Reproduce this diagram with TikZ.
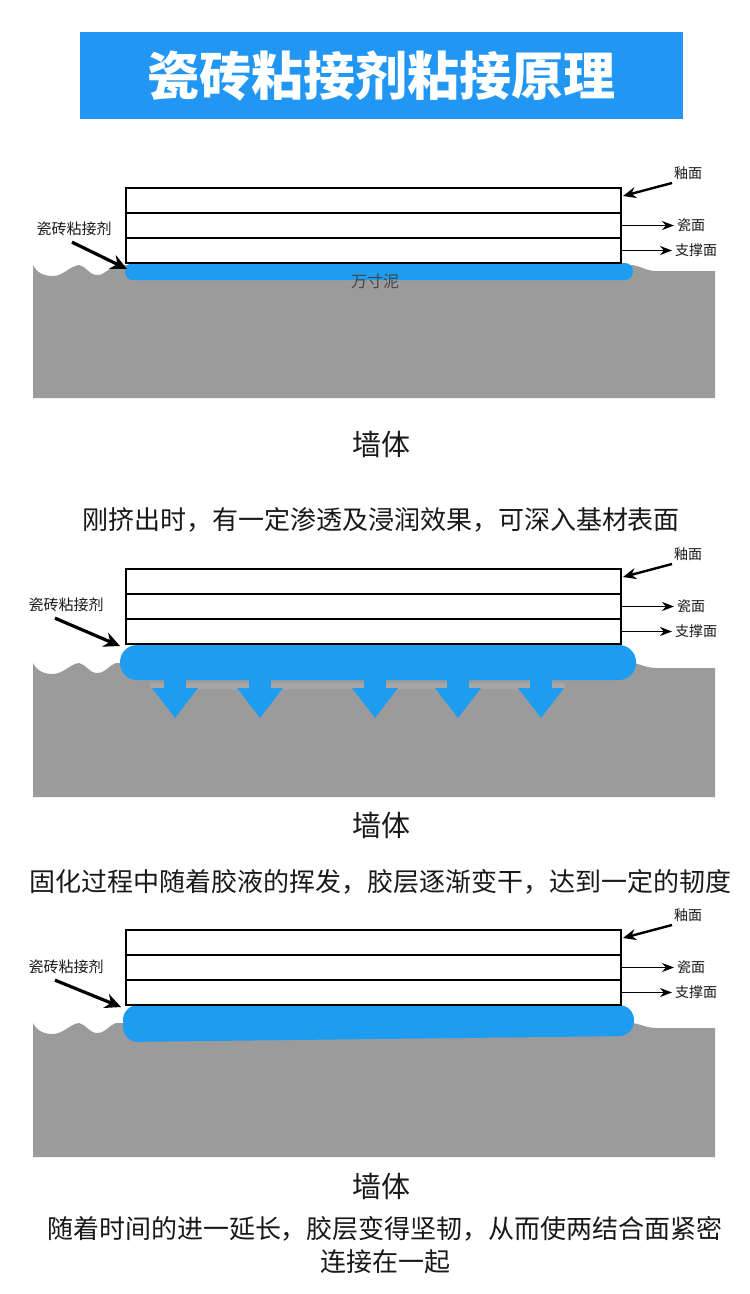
\documentclass[tikz,border=0pt]{standalone}
\usepackage{fontspec}
\newfontfamily\cjk{Noto Sans CJK SC}
\usetikzlibrary{arrows.meta}
\definecolor{titleblue}{RGB}{33,150,243}
\definecolor{glue}{RGB}{30,156,240}
\definecolor{wall}{RGB}{155,155,155}
\definecolor{band}{RGB}{166,166,166}
\definecolor{ink}{RGB}{25,25,25}
\definecolor{mudtext}{RGB}{70,70,70}
\tikzset{
  lbl/.style={font=\cjk\fontsize{14}{14}\selectfont, text=ink, inner sep=0pt, outer sep=0pt},
  gluelbl/.style={font=\cjk\fontsize{15}{15}\selectfont, text=ink, inner sep=0pt},
  big/.style={font=\cjk\fontsize{29}{29}\selectfont, text=ink, inner sep=0pt},
  desc/.style={font=\cjk\fontsize{26}{26}\selectfont, text=ink, inner sep=0pt},
  tile/.style={draw=black, line width=1.6pt, fill=white, inner sep=0pt, outer sep=0pt,
    minimum width=495pt, minimum height=25pt, anchor=north west},
  thinarrow/.style={-{Stealth[length=12pt,width=9pt]}, line width=1.8pt, shorten >=3pt},
  glazearrow/.style={-{Stealth[length=13pt,width=11pt]}, line width=2.4pt},
  gluearrow/.style={-{Stealth[length=16pt,width=15pt]}, line width=3.2pt},
}
% #1 top of wall, #2 right flat level, #3 bottom
\newcommand\wallpath[3]{%
  \fill[wall] (33,#3) -- (33,#1) .. controls (37,#1+8) and (44,#1+11) .. (53,#1+11)
    .. controls (63,#1+11) and (70,#1+1) .. (79,#1)
    .. controls (86,#1+1) and (89,#1+10) .. (97,#1+10)
    .. controls (106,#1+10) and (109,#1+2) .. (116,#1) -- (630,#1)
    .. controls (640,#1) and (645,#2) .. (656,#2) -- (715,#2) -- (715,#3) -- cycle;}
% #1 top of tiles, #2 suffix
\newcommand\tilegroup[2]{%
  \node[tile] (ta#2) at (126,#1) {};
  \node[tile] (tb#2) at (ta#2.south west) {};
  \node[tile] (tc#2) at (tb#2.south west) {};
  \node[lbl] (glz#2) at (688,#1-15) {釉面};
  \node[lbl, anchor=west] (cer#2) at (677,#1+37.5) {瓷面};
  \node[lbl, anchor=west] (sup#2) at (675,#1+62.5) {支撑面};
  \draw[glazearrow] ([shift={(-16pt,-10pt)}]glz#2.center) -- ([shift={(2pt,4.5pt)}]ta#2.east);
  \draw[thinarrow] (tb#2.east) -- (cer#2.west);
  \draw[thinarrow] (tc#2.east) -- (sup#2.west);
}
\begin{document}
\begin{tikzpicture}[x=1pt,y=-1pt]
\useasboundingbox (0,0) rectangle (750,1294);
\fill[white] (0,0) rectangle (750,1294);
% title
\node[fill=titleblue, minimum width=603pt, minimum height=87pt, inner sep=0pt] (titlebox) at (381.5,75.5) {};
\node[font=\cjk\bfseries\fontsize{52}{52}\selectfont, text=white, inner sep=0pt] (title) at (titlebox.center) {瓷砖粘接剂粘接原理};

% ---------- panel 1 ----------
\wallpath{265}{271}{398}
\fill[glue, rounded corners=8pt] (125,263) rectangle (633,280);
\tilegroup{188}{one}
\node[font=\cjk\fontsize{16}{16}\selectfont, text=mudtext, inner sep=0pt] (mud) at (375,281) {万寸泥};
\node[gluelbl] (gl1) at (74,229) {瓷砖粘接剂};
\coordinate (tip1) at (127,269);
\draw[gluearrow] ([shift={(-2pt,-6pt)}]gl1.south) -- (tip1);
\node[big] (wallone) at (381,444) {墙体};
\node[desc] (descone) at (381,520) {刚挤出时，有一定渗透及浸润效果，可深入基材表面};

% ---------- panel 2 ----------
\wallpath{663}{668}{797}
\fill[band] (150,683) rectangle (565,689);
\foreach \c in {175,260,375,458,541} {
  \fill[glue] (\c-11,675) rectangle (\c+11,690);
  \fill[glue] (\c-23,688) -- (\c+23,688) -- (\c,718) -- cycle;
}
\fill[glue, rounded corners=17pt] (120,645) rectangle (636,680);
\tilegroup{569}{two}
\node[gluelbl] (gl2) at (66,605) {瓷砖粘接剂};
\coordinate (tip2) at (120,646);
\draw[gluearrow] ([shift={(-11pt,-6pt)}]gl2.south) -- (tip2);
\node[big] (walltwo) at (381,825) {墙体};
\node[desc] (desctwo) at (381,882) {固化过程中随着胶液的挥发，胶层逐渐变干，达到一定的韧度};

% ---------- panel 3 ----------
\wallpath{1023}{1028}{1157}
\fill[glue, rounded corners=15pt] (123,1005) -- (634,1005) -- (634,1036) -- (123,1042) -- cycle;
\tilegroup{930}{three}
\node[gluelbl] (gl3) at (66,967) {瓷砖粘接剂};
\coordinate (tip3) at (121,1007);
\draw[gluearrow] ([shift={(-11pt,-6pt)}]gl3.south) -- (tip3);
\node[big] (wallthree) at (381,1186) {墙体};
\node[desc] (descthree) at (385,1229) {随着时间的进一延长，胶层变得坚韧，从而使两结合面紧密};
\node[desc] (descfour) at (385,1262) {连接在一起};
\end{tikzpicture}
\end{document}
